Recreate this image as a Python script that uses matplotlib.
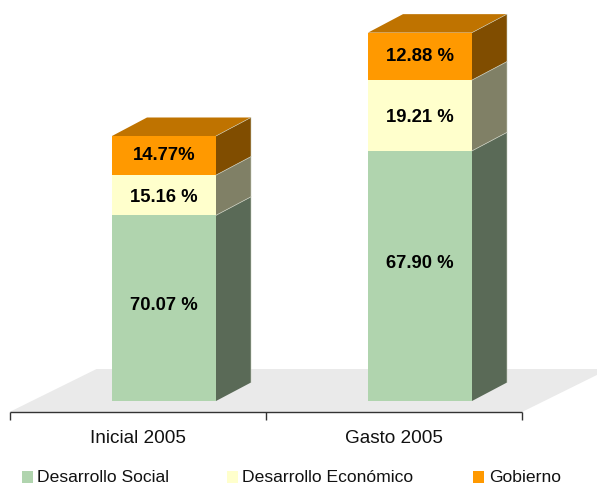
import matplotlib
matplotlib.use("Agg")
import matplotlib.pyplot as plt
from matplotlib.patches import Polygon, Rectangle

categories = ["Inicial 2005", "Gasto 2005"]
series_names = ["Desarrollo Social", "Desarrollo Económico", "Gobierno"]
social = [70.07, 67.90]
economico = [15.16, 19.21]
gobierno = [14.77, 12.88]
# height of each bar relative to the first one
totals = [100, 139]
labels_social = ["70.07 %", "67.90 %"]
labels_economico = ["15.16 %", "19.21 %"]
labels_gobierno = ["14.77%", "12.88 %"]

front = ["#B0D4AE", "#FFFFCC", "#FF9900"]
side = ["#5A6A57", "#808066", "#804D00"]
top_color = "#BF7300"
edge_light = "#C9CDBE"

plt.rcParams["font.family"] = ["Liberation Sans", "DejaVu Sans"]

W, H = 597, 485
PX_X = 256.0   # pixels per category
PX_Y = 2.65    # pixels per value unit
X0, Y0 = 164, 402  # pixel of first category centre / value 0


def dx(p):
    return p / PX_X


def dy(p):
    return p / PX_Y


fig = plt.figure(figsize=(W / 100, H / 100), dpi=100)
ax = fig.add_axes([0, 0, 1, 1])
ax.set_xlim(-X0 / PX_X, (W - X0) / PX_X)
ax.set_ylim((Y0 - H) / PX_Y, Y0 / PX_Y)
ax.axis("off")

half = dx(52)
depth_x = dx(35)
depth_y = dy(18.5)

# floor
left = dx(9.5 - X0)
right = dx(522 - X0)
fl_bot = dy(Y0 - 413)
fl_d_x = dx(87)
fl_d_y = dy(43)
ax.add_patch(Polygon([(left, fl_bot), (right, fl_bot), (right + fl_d_x, fl_bot + fl_d_y),
                      (left + fl_d_x, fl_bot + fl_d_y)], closed=True, fc="#EAEAEA", ec="none", zorder=1))

# axis line + ticks
ax.plot([left, right], [fl_bot, fl_bot], color="#333333", lw=1, zorder=2, solid_capstyle="butt")
for t in [left, (left + right) / 2, right]:
    ax.plot([t, t], [fl_bot, fl_bot - dy(8)], color="#333333", lw=1, zorder=2, solid_capstyle="butt")

# nudge of the value labels, they do not sit exactly in the middle
nudge = {(0, 0): 4, (1, 0): 13, (0, 1): -1, (1, 1): -1, (0, 2): 1, (1, 2): 1}

seg = (right - left) / 2
for i, cat in enumerate(categories):
    vals = [social[i], economico[i], gobierno[i]]
    labs = [labels_social[i], labels_economico[i], labels_gobierno[i]]
    bottom = 0
    xl, xr = i - half, i + half
    for j, v in enumerate(vals):
        h = v / sum(vals) * totals[i]
        ytop = bottom + h
        ax.add_patch(Rectangle((xl, bottom), xr - xl, h, fc=front[j], ec="none", zorder=3))
        ax.add_patch(Polygon([(xr, bottom), (xr + depth_x, bottom + depth_y),
                              (xr + depth_x, ytop + depth_y), (xr, ytop)],
                             closed=True, fc=side[j], ec="none", zorder=3))
        if j < 2:
            ax.plot([xr, xr + depth_x], [ytop, ytop + depth_y], color=edge_light, lw=0.5, zorder=4)
        ax.text(i, bottom + h / 2 + dy(nudge[(i, j)]), labs[j], ha="center", va="center",
                fontsize=13.3, fontweight="bold", color="#000000", zorder=5)
        bottom = ytop
    # top face
    ax.add_patch(Polygon([(xl, bottom), (xr, bottom), (xr + depth_x, bottom + depth_y),
                          (xl + depth_x, bottom + depth_y)], closed=True, fc=top_color, ec="none", zorder=3))
    ax.plot([xr, xr + depth_x, xr + depth_x], [bottom, bottom + depth_y, depth_y], color=edge_light, lw=0.4, zorder=4)
    # category name sits in the middle of its axis segment
    ax.text(left + seg * (i + 0.5), dy(Y0 - 439), cat, ha="center", va="center",
            fontsize=13.7, color="#111111", zorder=5)

# legend, drawn by hand because entries are spread unevenly
leg_y = dy(Y0 - 478)
sq_w, sq_h = dx(11), dy(12)
for name, col, sq_x, tx in zip(series_names, front, [22, 227, 473], [37, 242, 489]):
    ax.add_patch(Rectangle((dx(sq_x - X0), leg_y - sq_h / 2), sq_w, sq_h, fc=col, ec="none", zorder=3))
    ax.text(dx(tx - X0), leg_y, name, ha="left", va="center", fontsize=12.6, color="#111111", zorder=5)

fig.savefig("out.png", dpi=100)
